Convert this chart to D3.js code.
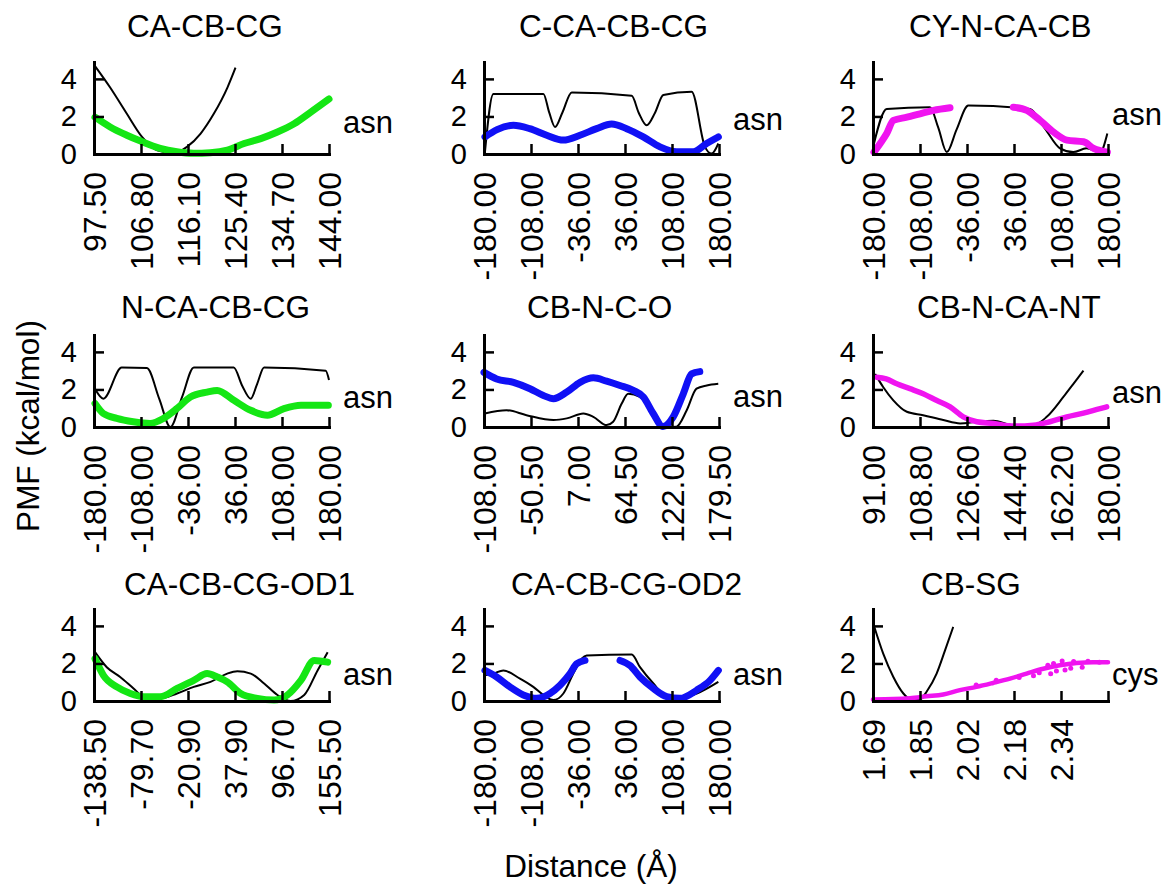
<!DOCTYPE html>
<html>
<head>
<meta charset="utf-8">
<title>PMF panels</title>
<script src="https://cdnjs.cloudflare.com/ajax/libs/d3/7.8.5/d3.min.js"></script>
<style>
body { margin: 0; background: white; }
text { font-family: "Liberation Sans", Arial, Helvetica, sans-serif; fill: black; }
.title { font-size: 31.5px; }
.ytick text { font-size: 29px; }
.xtick text { font-size: 32px; }
.res { font-size: 31px; }
.axis-title { font-size: 31.5px; text-anchor: middle; }
.domain { stroke: black; stroke-width: 3; stroke-linecap: square; }
.tick line { stroke: black; stroke-width: 2.5; }
.ref { stroke: black; stroke-width: 2; fill: none; }
.sim { fill: none; stroke-width: 7; stroke-linejoin: round; stroke-linecap: round; }
</style>
</head>
<body>
<svg width="1164" height="884"></svg>
<script>
// ---- data ----
var titles = ["CA-CB-CG", "C-CA-CB-CG", "CY-N-CA-CB",
              "N-CA-CB-CG", "CB-N-C-O", "CB-N-CA-NT",
              "CA-CB-CG-OD1", "CA-CB-CG-OD2", "CB-SG"];
var residues = ["asn", "asn", "asn", "asn", "asn", "asn", "asn", "asn", "cys"];

var dihedralTicks = ["-180.00", "-108.00", "-36.00", "36.00", "108.00", "180.00"];
var tickLabels = [
  ["97.50", "106.80", "116.10", "125.40", "134.70", "144.00"],
  dihedralTicks,
  dihedralTicks,
  dihedralTicks,
  ["-108.00", "-50.50", "7.00", "64.50", "122.00", "179.50"],
  ["91.00", "108.80", "126.60", "144.40", "162.20", "180.00"],
  ["-138.50", "-79.70", "-20.90", "37.90", "96.70", "155.50"],
  dihedralTicks,
  ["1.69", "1.85", "2.02", "2.18", "2.34", ""]
];
var xDomains = [[97.5, 144], [-180, 180], [-180, 180],
                [-180, 180], [-108, 179.5], [91, 180],
                [-138.5, 155.5], [-180, 180], [1.69, 2.51]];
var yTicks = [0, 2, 4];
var yMax = 4.9;

var green = "#14e614", blue = "#1010f5", magenta = "#f014f0";
var seriesColors = [green, blue, magenta, green, blue, magenta, green, blue, magenta];

// black reference curves
var ref0 = [[97.7,4.68],[100.7,3.54],[104,2.14],[107,0.91],[110,0.2],[113.3,0.05],[115.9,0.38],[118.6,1.09],[121.2,2.14],[123.9,3.54],[125.5,4.6]];
var ref1 = [[-178.5,0.12],[-165.7,3.2],[-89,3.2],[-80,2.2],[-71.2,1.44],[-60,2.2],[-45.6,3.28],[46.3,3.1],[57,2.2],[69.2,1.53],[82,2.2],[94.7,3.14],[138.1,3.32],[158.5,0.38],[168.7,0.02],[179,0.56]];
var ref2 = [[-178.5,0.56],[-159,2.4],[-92.7,2.49],[-80,1.4],[-67,0.1],[-52,1.3],[-34,2.58],[60.5,2.4],[83.5,1.35],[106.5,0.3],[127,0.1],[147,0.3],[168,0.1],[179,1.09]];
var ref3 = [[-178.5,2.04],[-165.7,1.51],[-137.5,3.17],[-99,3.14],[-80,1.5],[-63,0.0],[-45,1.6],[-27,3.17],[34,3.17],[47,2.2],[60,1.51],[70,2.3],[80.5,3.17],[175,3.0],[180,2.5]];
var ref4 = [[-107,0.72],[-80.5,0.89],[-56,0.63],[-23,0.37],[-6.7,0.46],[13.5,0.72],[25.8,0.54],[42,0.1],[50,0.28],[60.5,1.25],[68.4,1.77],[82.7,1.6],[99,0.72],[115,0.0],[127.5,0.02],[140,0.89],[152,2.04],[164.5,2.21],[178.6,2.3]];
var ref5 = [[91.8,2.82],[94.9,2.12],[98.7,1.42],[103.8,0.81],[110,0.63],[117.6,0.37],[124,0.19],[130.3,0.28],[136.6,0.33],[144.2,0.1],[151.8,0.1],[156.8,0.54],[163.1,1.6],[166.9,2.3],[170.7,3.0]];
var ref6 = [[-137.2,2.6],[-122.5,1.8],[-105.8,1.28],[-89,0.67],[-76.5,0.23],[-55.6,0.14],[-34.6,0.4],[-13.7,0.75],[7.3,1.02],[28.2,1.46],[40.8,1.58],[57.6,1.46],[74.3,0.93],[91,0.32],[107.7,0.0],[124.5,0.32],[141.2,1.63],[153.8,2.6]];
var ref7 = [[-178.5,1.37],[-165.7,1.46],[-150.4,1.63],[-124.9,1.19],[-104.5,0.75],[-89,0.32],[-73.7,0.05],[-58.4,0.4],[-43.2,1.46],[-30.4,2.25],[-22.7,2.42],[46.3,2.47],[59,1.8],[79.5,0.93],[100,0.23],[120,0.14],[146,0.4],[179,1.02]];
var ref8 = [[1.6935,4.0],[1.726,2.51],[1.761,1.28],[1.796,0.4],[1.819,0.1],[1.84,0.05],[1.858,0.12],[1.877,0.49],[1.912,1.46],[1.941,2.68],[1.97,3.95]];
var refLines = [ref0, ref1, ref2, ref3, ref4, ref5, ref6, ref7, ref8];

// coloured simulation points (segments split where the picture has gaps)
var sim0 = [[[97.7,1.96],[100.7,1.44],[104,1.0],[106.6,0.7],[110.6,0.3],[113.9,0.12],[117.2,0.04],[120.5,0.07],[123.9,0.21],[127.2,0.56],[130.5,0.82],[133.8,1.17],[137.1,1.61],[140.4,2.23],[144,2.93]]];
var sim1 = [[[-178.5,0.91],[-160,1.3],[-135,1.53],[-110,1.35],[-84,1.0],[-58.5,0.74],[-33,1.0],[-7.5,1.35],[15.5,1.6],[38.5,1.35],[64,0.91],[89.6,0.38],[115,0.12],[140.5,0.12],[161,0.56],[179,0.91]]];
var sim2 = [[[-178.5,0.1],[-169,0.56],[-159,1.09],[-148.8,1.79],[-128,1.96],[-108,2.14],[-87.5,2.32],[-62,2.46]],
            [[35,2.49],[55.6,2.32],[76,1.79],[96.5,1.17],[117,0.74],[142.5,0.65],[158,0.3],[179,0.1]]];
var sim3 = [[[-178.5,1.25],[-165.7,0.72],[-145,0.46],[-120,0.28],[-94,0.19],[-73.5,0.46],[-53,0.98],[-32.3,1.6],[-6.7,1.86],[8.7,1.95],[34.3,1.42],[60,0.89],[85.7,0.63],[111,0.98],[137,1.16],[163,1.16],[179,1.16]]];
var sim4 = [[[-108,2.91],[-92.5,2.56],[-72,2.38],[-51.7,2.04],[-35.4,1.68],[-23,1.51],[-6.7,1.86],[9.5,2.38],[25.8,2.62],[42,2.44],[58.4,2.21],[74.7,1.95],[87,1.6],[99,0.72],[111,0.02],[123.5,0.54],[135.8,1.77],[146,2.83],[156,2.95]]];
var sim5 = [[[92.4,2.65],[96,2.56],[100,2.3],[105,2.04],[110,1.77],[115,1.42],[120.2,1.07],[125.2,0.54],[130.3,0.28],[136.6,0.19],[144.2,0.05],[151.8,0.1],[158,0.28],[164.4,0.54],[170.7,0.74],[177,0.98],[179.5,1.07]]];
var sim6 = [[[-137.2,2.25],[-126.7,1.37],[-109.9,0.75],[-93,0.4],[-76.5,0.23],[-55.6,0.23],[-34.6,0.67],[-13.7,1.1],[3,1.46],[15.7,1.28],[28.2,1.02],[45,0.4],[65.8,0.14],[86.8,0.05],[103.5,0.32],[120.3,1.1],[137,2.16],[153.8,2.07]]];
var sim7 = [[[-178.5,1.63],[-160.6,1.28],[-140.2,0.75],[-119.8,0.32],[-99.3,0.14],[-78.9,0.4],[-63.5,0.84],[-48.2,1.46],[-38,1.98],[-25.3,2.16]],
            [[28.4,2.16],[43.7,1.89],[59,1.28],[79.5,0.67],[100,0.23],[120,0.14],[146,0.58],[166.3,1.1],[179,1.63]]];
var sim8 = [[[1.69,0.08],[1.761,0.1],[1.819,0.15],[1.877,0.25],[1.935,0.35],[1.993,0.58],[2.051,0.75],[2.109,0.96],[2.168,1.19],[2.226,1.46],[2.284,1.72],[2.342,1.9],[2.4,2.02],[2.458,2.07],[2.51,2.07]]];
var simSegments = [sim0, sim1, sim2, sim3, sim4, sim5, sim6, sim7, sim8];

// loose points around the CB-SG band
var cbsgScatter = [[2.2,1.25],[2.25,1.35],[2.27,1.5],[2.31,1.45],[2.33,1.6],[2.36,1.65],[2.38,1.75],[2.42,1.8],[2.3,1.9],[2.32,2.0],[2.35,2.13],[2.39,2.1],[2.44,2.12],[2.48,2.07],[2.12,1.1],[2.05,0.85]];

// ---- layout ----
var colLeft = [94, 484, 873];
var plotW = 235, plotH = 92;
var rowBase = [154, 427, 701];
var titleLeft = [127, 519, 909, 121, 527, 917, 124, 511, 921];
var titleBase = [37, 318, 595];
var resDx = [14, 14, 4];
var resY = [133, 130, 125, 408, 407, 403, 685, 685, 685];

var svg = d3.select("svg");

titles.forEach(function (t, i) {
  var col = i % 3, row = Math.floor(i / 3);
  var left = colLeft[col], base = rowBase[row];
  var dom = xDomains[i];
  var x = d3.scaleLinear().domain(dom).range([left, left + plotW]);
  var y = d3.scaleLinear().domain([0, yMax]).range([base, base - plotH]);
  var g = svg.append("g");

  var tickVals = d3.range(6).map(function (k) { return dom[0] + k * (dom[1] - dom[0]) / 5; });

  var line = d3.line()
    .x(function (d) { return x(d[0]); })
    .y(function (d) { return y(d[1]); })
    .curve(d3.curveMonotoneX);

  g.append("path")
    .attr("class", "ref")
    .attr("d", line(refLines[i]));

  var simW = (i === 8) ? 4.5 : (i === 5 ? 5.5 : 7);
  simSegments[i].forEach(function (seg) {
    g.append("path")
      .attr("class", "sim")
      .style("stroke", seriesColors[i])
      .style("stroke-width", simW)
      .attr("d", line(seg));
  });
  if (i === 8) {
    g.selectAll(".scatter")
      .data(cbsgScatter)
      .enter().append("circle")
      .attr("class", "scatter")
      .attr("cx", function (d) { return x(d[0]); })
      .attr("cy", function (d) { return y(d[1]); })
      .attr("r", 2.5)
      .style("fill", seriesColors[i]);
  }

  var xAxis = g.append("g")
    .attr("class", "xtick")
    .attr("transform", "translate(0," + base + ")")
    .call(d3.axisBottom(x)
      .tickValues(tickVals)
      .tickFormat(function (d, k) { return tickLabels[i][k]; })
      .tickSizeInner(-10)
      .tickSizeOuter(0));
  xAxis.selectAll("text")
    .attr("transform", "rotate(-90)")
    .attr("x", -18)
    .attr("y", 0)
    .attr("dy", "0.35em")
    .style("text-anchor", "end");

  g.append("g")
    .attr("class", "ytick")
    .attr("transform", "translate(" + left + ",0)")
    .call(d3.axisLeft(y)
      .tickValues(yTicks)
      .tickFormat(d3.format("d"))
      .tickSizeInner(-10)
      .tickSizeOuter(0)
      .tickPadding(17));

  g.append("text")
    .attr("class", "title")
    .attr("x", titleLeft[i])
    .attr("y", titleBase[row])
    .text(t);

  g.append("text")
    .attr("class", "res")
    .attr("x", left + plotW + resDx[col])
    .attr("y", resY[i])
    .text(residues[i]);
});

svg.append("text")
  .attr("class", "axis-title")
  .attr("transform", "translate(39,426) rotate(-90)")
  .text("PMF (kcal/mol)");

svg.append("text")
  .attr("class", "axis-title")
  .attr("x", 591)
  .attr("y", 877)
  .text("Distance (Å)");
</script>
</body>
</html>
